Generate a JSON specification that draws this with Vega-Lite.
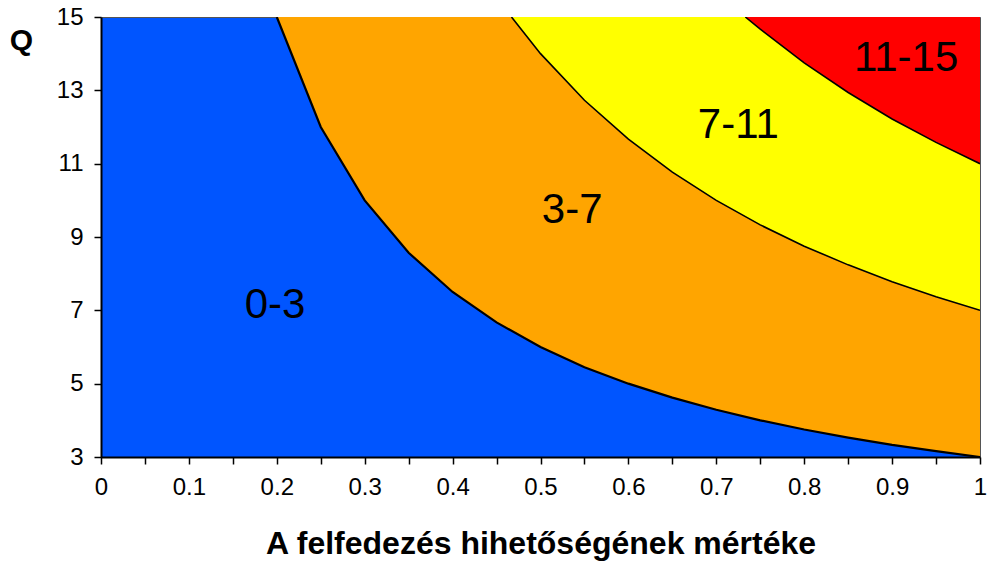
{
  "$schema": "https://vega.github.io/schema/vega-lite/v6.json",
  "autosize": {"type": "none"},
  "width": 879,
  "height": 440,
  "padding": {"left": 101, "top": 17, "right": 7, "bottom": 105},
  "background": "white",
  "config": {
    "font": "Liberation Sans",
    "view": {"fill": "#0055FF", "stroke": "#555555", "strokeWidth": 1}
  },
  "datasets": {
    "contours": [
      {"x": 0.2, "Q": 15, "level": 3},
      {"x": 0.25, "Q": 12, "level": 3},
      {"x": 0.3, "Q": 10, "level": 3},
      {"x": 0.35, "Q": 8.57, "level": 3},
      {"x": 0.4, "Q": 7.5, "level": 3},
      {"x": 0.45, "Q": 6.67, "level": 3},
      {"x": 0.5, "Q": 6, "level": 3},
      {"x": 0.55, "Q": 5.45, "level": 3},
      {"x": 0.6, "Q": 5, "level": 3},
      {"x": 0.65, "Q": 4.62, "level": 3},
      {"x": 0.7, "Q": 4.29, "level": 3},
      {"x": 0.75, "Q": 4, "level": 3},
      {"x": 0.8, "Q": 3.75, "level": 3},
      {"x": 0.85, "Q": 3.53, "level": 3},
      {"x": 0.9, "Q": 3.33, "level": 3},
      {"x": 0.95, "Q": 3.16, "level": 3},
      {"x": 1.0, "Q": 3, "level": 3},
      {"x": 0.467, "Q": 15, "level": 7},
      {"x": 0.5, "Q": 14, "level": 7},
      {"x": 0.55, "Q": 12.73, "level": 7},
      {"x": 0.6, "Q": 11.67, "level": 7},
      {"x": 0.65, "Q": 10.77, "level": 7},
      {"x": 0.7, "Q": 10, "level": 7},
      {"x": 0.75, "Q": 9.33, "level": 7},
      {"x": 0.8, "Q": 8.75, "level": 7},
      {"x": 0.85, "Q": 8.24, "level": 7},
      {"x": 0.9, "Q": 7.78, "level": 7},
      {"x": 0.95, "Q": 7.37, "level": 7},
      {"x": 1.0, "Q": 7, "level": 7},
      {"x": 0.733, "Q": 15, "level": 11},
      {"x": 0.75, "Q": 14.67, "level": 11},
      {"x": 0.8, "Q": 13.75, "level": 11},
      {"x": 0.85, "Q": 12.94, "level": 11},
      {"x": 0.9, "Q": 12.22, "level": 11},
      {"x": 0.95, "Q": 11.58, "level": 11},
      {"x": 1.0, "Q": 11, "level": 11}
    ],
    "labels": [
      {"x": 0.198, "Q": 7.15, "text": "0-3"},
      {"x": 0.536, "Q": 9.75, "text": "3-7"},
      {"x": 0.725, "Q": 12.05, "text": "7-11"},
      {"x": 0.916, "Q": 13.88, "text": "11-15"}
    ]
  },
  "encoding": {
    "x": {
      "field": "x", "type": "quantitative",
      "scale": {"domain": [0, 1], "nice": false, "zero": false},
      "axis": {
        "title": "A felfedezés hihetőségének mértéke",
        "titleFont": "Liberation Sans", "titleFontSize": 32, "titleFontWeight": "bold",
        "titleColor": "#000000", "titleY": 96, "titleBaseline": "alphabetic",
        "values": [0, 0.05, 0.1, 0.15, 0.2, 0.25, 0.3, 0.35, 0.4, 0.45, 0.5, 0.55, 0.6, 0.65, 0.7, 0.75, 0.8, 0.85, 0.9, 0.95, 1],
        "labelExpr": "round(datum.value*100) % 10 == 0 ? format(datum.value, '~g') : ''",
        "labelOverlap": false, "labelFlush": false,
        "labelFontSize": 24, "labelColor": "#000000", "labelPadding": 11,
        "tickColor": "#000000", "tickSize": 7, "tickWidth": 1.5,
        "domainColor": "#000000", "domainWidth": 2, "grid": false
      }
    },
    "y": {
      "field": "Q", "type": "quantitative",
      "scale": {"domain": [3, 15], "nice": false, "zero": false},
      "axis": {
        "title": "Q", "titleAngle": 0, "titleFontSize": 30, "titleFontWeight": "bold",
        "titleColor": "#000000", "titleX": -80, "titleY": 23, "titleAlign": "center", "titleBaseline": "middle",
        "values": [3, 5, 7, 9, 11, 13, 15],
        "labelFontSize": 24, "labelColor": "#000000", "labelPadding": 11,
        "tickColor": "#000000", "tickSize": 7, "tickWidth": 1.5,
        "domainColor": "#000000", "domainWidth": 2, "grid": false
      }
    }
  },
  "layer": [
    {
      "data": {"name": "contours"},
      "transform": [{"filter": "datum.level == 3"}],
      "mark": {"type": "area", "color": "#FFA500", "clip": true},
      "encoding": {"y2": {"datum": 15}}
    },
    {
      "data": {"name": "contours"},
      "transform": [{"filter": "datum.level == 7"}],
      "mark": {"type": "area", "color": "#FFFF00", "clip": true},
      "encoding": {"y2": {"datum": 15}}
    },
    {
      "data": {"name": "contours"},
      "transform": [{"filter": "datum.level == 11"}],
      "mark": {"type": "area", "color": "#FF0000", "clip": true},
      "encoding": {"y2": {"datum": 15}}
    },
    {
      "data": {"name": "contours"},
      "transform": [{"filter": "datum.level == 3"}],
      "mark": {"type": "line", "color": "#000000", "strokeWidth": 2.2, "clip": true},
      "encoding": {}
    },
    {
      "data": {"name": "contours"},
      "transform": [{"filter": "datum.level != 3"}],
      "mark": {"type": "line", "color": "#000000", "strokeWidth": 1.6, "clip": true},
      "encoding": {"detail": {"field": "level", "type": "nominal"}}
    },
    {
      "data": {"name": "labels"},
      "mark": {"type": "text", "fontSize": 42, "color": "#000000", "align": "center", "baseline": "middle", "font": "Liberation Sans"},
      "encoding": {"text": {"field": "text", "type": "nominal"}}
    }
  ]
}
